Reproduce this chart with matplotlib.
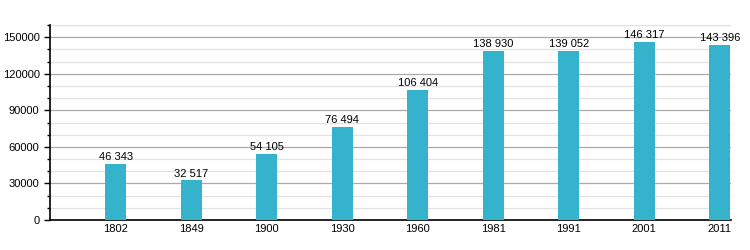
import matplotlib.pyplot as plt
import numpy as np
from matplotlib.ticker import MultipleLocator

years = ['1802', '1849', '1900', '1930', '1960', '1981', '1991', '2001', '2011']
population = [46343, 32517, 54105, 76494, 106404, 138930, 139052, 146317, 143396]
labels = ['46 343', '32 517', '54 105', '76 494', '106 404', '138 930', '139 052', '146 317', '143 396']

plt.rcParams['font.family'] = ['Liberation Sans', 'DejaVu Sans']

fig = plt.figure(figsize=(7.5, 2.5), dpi=100)
ax = fig.add_axes([0.0667, 0.12, 0.908, 0.78])

x = np.arange(len(years))
ax.bar(x, population, width=0.28, color='#35b3cc', zorder=3)
for xi, v, lab in zip(x, population, labels):
    ax.text(xi, v + 1500, lab, ha='center', va='bottom', fontsize=8, zorder=4)

ax.set_xlim(-0.87, 8.15)
ax.set_ylim(0, 160000)
ax.set_xticks(x)
ax.set_xticklabels(years, fontsize=8)
ax.yaxis.set_major_locator(MultipleLocator(30000))
ax.yaxis.set_minor_locator(MultipleLocator(10000))
ax.tick_params(axis='y', labelsize=8, length=4, width=1)
ax.tick_params(axis='y', which='minor', length=2.5, width=1)
ax.tick_params(axis='x', length=0, pad=3)
ax.grid(axis='y', which='major', color='#aaaaaa', linewidth=0.9, zorder=0)
ax.grid(axis='y', which='minor', color='#e2e2e2', linewidth=0.9, zorder=0)
ax.axhline(160000, color='#e2e2e2', linewidth=0.9, zorder=0)
for s in ['top', 'right']:
    ax.spines[s].set_visible(False)
ax.spines['left'].set_linewidth(1.2)
ax.spines['bottom'].set_linewidth(1.2)

fig.savefig('out.png')
